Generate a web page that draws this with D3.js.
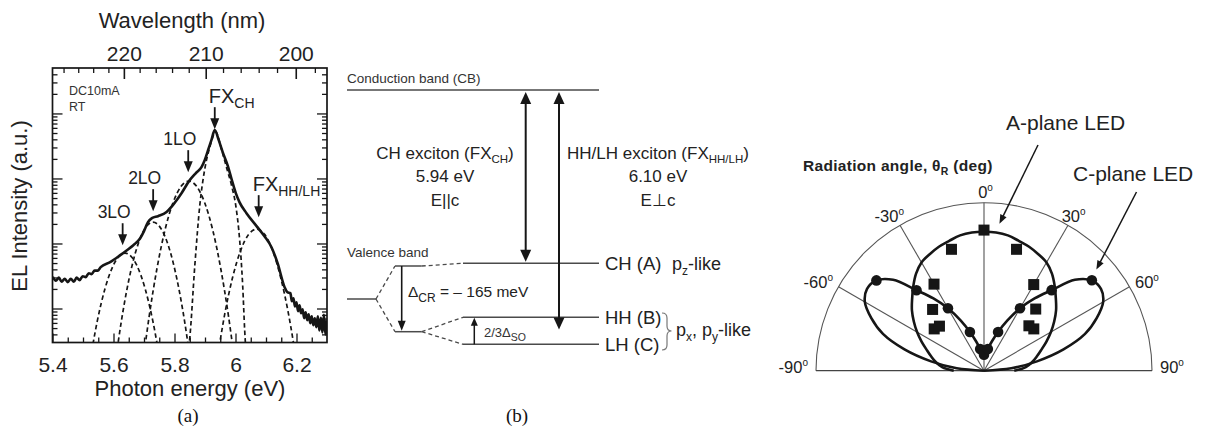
<!DOCTYPE html>
<html>
<head>
<meta charset="utf-8">
<script src="https://cdn.jsdelivr.net/npm/d3@7"></script>
<style>
  body { margin: 0; background: #fff; }
  svg { display: block; }
</style>
</head>
<body>
<script>
// ---------------- (a) EL spectrum ----------------
const energyDomain = [5.4, 6.3];              // photon energy, eV
const intensityDomain = [0.3, 5000];          // EL intensity, a.u. (log)
const energyLabelTicks = [5.4, 5.6, 5.8, 6.0, 6.2];
const energyMinorTicks = [5.45, 5.5, 5.55, 5.65, 5.7, 5.75, 5.85, 5.9, 5.95, 6.05, 6.1, 6.15, 6.25];
const wavelengthLabelTicks = [220, 210, 200]; // nm
const wavelengthMinorTicks = [228, 226, 224, 222, 218, 216, 214, 212, 208, 206, 204, 202, 198];
const logMajorTicks = [1, 10, 100, 1000];
const logMinorTicks = [0.4, 0.5, 0.6, 0.7, 0.8, 0.9, 2, 3, 4, 5, 6, 7, 8, 9,
  20, 30, 40, 50, 60, 70, 80, 90, 200, 300, 400, 500, 600, 700, 800, 900, 2000, 3000, 4000];

// measured spectrum (DC 10 mA, RT)
const specE = [5.401, 5.411, 5.421, 5.430, 5.440, 5.450, 5.460, 5.470, 5.479, 5.489, 5.499, 5.509, 5.519, 5.528, 5.538, 5.548, 5.558,
  5.589, 5.622, 5.644, 5.665, 5.687, 5.700, 5.713, 5.726, 5.746, 5.774, 5.792, 5.807, 5.823, 5.850, 5.870, 5.889, 5.899, 5.910, 5.921, 5.932,
  5.945, 5.958, 5.975, 5.988, 6.001, 6.013, 6.036, 6.069, 6.095, 6.118, 6.138, 6.161, 6.170,
  6.180, 6.185, 6.190, 6.195, 6.200, 6.205, 6.210, 6.215, 6.220, 6.225, 6.230, 6.235, 6.240, 6.245, 6.250, 6.255,
  6.260, 6.265, 6.270, 6.275, 6.280, 6.285, 6.290, 6.295, 6.300];
const specI = [3.08, 2.68, 2.98, 2.58, 2.87, 2.54, 2.87, 2.58, 2.98, 2.73, 3.14, 3.03, 3.49, 3.37, 3.82, 3.82, 4.32,
  5.16, 6.61, 7.89, 9.42, 11.9, 15.5, 21.3, 24.5, 26.3, 30.6, 37.5, 46.4, 59.4, 94.2, 121, 151, 191, 272, 388, 553,
  388, 254, 155, 94.2, 59.4, 43.2, 29.2, 18.5, 12.9, 8.77, 4.98, 2.13, 1.78,
  1.72, 1.29, 1.44, 1.08, 1.25, 0.909, 1.12, 0.847, 0.975, 0.709, 0.877, 0.661, 0.817, 0.594, 0.762, 0.553,
  0.709, 0.515, 0.76, 0.46, 0.72, 0.43, 0.80, 0.40, 0.66];

// fitted components
const fit3LO_E = [5.5203, 5.5464, 5.5725, 5.5987, 5.6183, 5.6379, 5.6575, 5.6771, 5.7033, 5.7294, 5.7556];
const fit3LO_I = [0.129, 0.627, 2.05, 4.54, 6.35, 7.09, 6.35, 4.54, 2.05, 0.627, 0.129];
const fit2LO_E = [5.6052, 5.6248, 5.6510, 5.6771, 5.7033, 5.7294, 5.7556, 5.7817, 5.8078, 5.8340, 5.8536];
const fit2LO_I = [0.139, 0.598, 2.85, 8.71, 17.0, 21.3, 17.0, 8.71, 2.85, 0.598, 0.139];
const fit1LO_E = [5.6967, 5.7163, 5.7425, 5.7686, 5.7948, 5.8209, 5.8471, 5.8732, 5.8993, 5.9255, 5.9516, 5.9778, 5.9974];
const fit1LO_I = [0.152, 0.722, 4.12, 16.0, 42.0, 74.8, 90.8, 74.8, 42.0, 16.0, 4.12, 0.722, 0.152];
const fitCH_E = [5.8438, 5.8503, 5.8667, 5.8830, 5.8993, 5.9157, 5.9353, 5.9549, 5.9712, 5.9876, 6.0007, 6.0137, 6.0235, 6.0301, 6.0350];
const fitCH_I = [0.191, 0.362, 4.64, 38.8, 140, 303, 515, 272, 144, 76.2, 38.8, 11.2, 2.28, 0.464, 0.191];
const fitHH_E = [5.9386, 5.9647, 5.9908, 6.0170, 6.0431, 6.0693, 6.0954, 6.1216, 6.1477, 6.1739, 6.2000];
const fitHH_I = [0.151, 0.820, 3.05, 7.83, 13.8, 16.6, 13.8, 7.83, 3.05, 0.820, 0.151];

// peak markers
const peakName = ["3LO", "2LO", "1LO", "FX", "FX"];
const peakSub = ["", "", "", "CH", "HH/LH"];
const peakEnergy = [5.630, 5.730, 5.845, 5.932, 6.076];
const peakTipIntensity = [9.4, 31.4, 125, 573, 25.4];

// ---------------- (b) band diagram ----------------
const excitonName = ["CH exciton", "HH/LH exciton"];
const excitonSub = ["CH", "HH/LH"];
const excitonEnergy = [5.94, 6.10];  // eV
const excitonPol = ["E||c", "E\u22a5c"];
const bandLabels = ["CH (A)", "HH (B)", "LH (C)"];
const deltaCR = -165;                // meV

// ---------------- (c) radiation patterns ----------------
const polarAngles = [-90, -85, -80, -75, -70, -65, -60, -55, -50, -45, -40, -35, -30, -25, -20, -15, -10, -5, 0,
  5, 10, 15, 20, 25, 30, 35, 40, 45, 50, 55, 60, 65, 70, 75, 80, 85, 90];
const aPlaneFit = [0.18, 0.25, 0.29, 0.325, 0.363, 0.41, 0.46, 0.51, 0.56, 0.605, 0.655, 0.705, 0.744, 0.765, 0.785, 0.80, 0.818, 0.826, 0.827,
  0.826, 0.818, 0.80, 0.785, 0.765, 0.744, 0.705, 0.655, 0.605, 0.56, 0.51, 0.46, 0.41, 0.363, 0.325, 0.29, 0.25, 0.18];
const cPlaneFit = [0, 0.163, 0.32, 0.49, 0.64, 0.74, 0.819, 0.85, 0.836, 0.765, 0.625, 0.525, 0.429, 0.33, 0.245, 0.18, 0.131, 0.105, 0.095,
  0.105, 0.131, 0.18, 0.245, 0.33, 0.429, 0.525, 0.625, 0.765, 0.836, 0.85, 0.819, 0.74, 0.64, 0.49, 0.32, 0.163, 0];
const aPlaneAngles = [-50, -45, -40, -30, -15, 0, 15, 30, 40, 45, 50];
const aPlaneMeas = [0.387, 0.375, 0.476, 0.595, 0.748, 0.837, 0.748, 0.592, 0.479, 0.378, 0.387];
const cPlaneAngles = [-50, -40, -30, -20, -10, 0, 10, 20, 30, 40, 50];
const cPlaneMeas = [0.836, 0.625, 0.429, 0.245, 0.131, 0.095, 0.131, 0.245, 0.429, 0.626, 0.838];
const polarGridAngles = [-60, -30, 0, 30, 60];
const polarTickAngles = [-90, -60, -30, 0, 30, 60, 90];
const calloutText = ["A-plane LED", "C-plane LED"];
const calloutAngle = [6, 48];
const calloutRadius = [0.88, 0.9];

// ======================================================
const sans = "'Liberation Sans', Arial, Helvetica, sans-serif";
const serif = "'Liberation Serif', 'Times New Roman', serif";
const ink = "#161616";
const grey = "#4a4a4a";
const hc = 1239.84;

const svg = d3.select("body").append("svg")
  .attr("width", 1205).attr("height", 430)
  .style("font-family", sans);

// arrow with filled triangular head(s)
function arrow(g, x1, y1, x2, y2, o = {}) {
  const hl = o.hl ?? 10, hw = o.hw ?? 8, sw = o.sw ?? 1.6, col = o.color ?? ink;
  const a = Math.atan2(y2 - y1, x2 - x1);
  const head = (tx, ty, ang) => {
    const bx = tx - hl * Math.cos(ang), by = ty - hl * Math.sin(ang);
    const px = -Math.sin(ang) * hw / 2, py = Math.cos(ang) * hw / 2;
    return `M${tx},${ty}L${bx + px},${by + py}L${bx - px},${by - py}Z`;
  };
  const s1x = o.both ? x1 + hl * 0.8 * Math.cos(a) : x1;
  const s1y = o.both ? y1 + hl * 0.8 * Math.sin(a) : y1;
  g.append("line")
    .attr("x1", s1x).attr("y1", s1y)
    .attr("x2", x2 - hl * 0.8 * Math.cos(a)).attr("y2", y2 - hl * 0.8 * Math.sin(a))
    .attr("stroke", col).attr("stroke-width", sw);
  g.append("path").attr("d", head(x2, y2, a)).attr("fill", col);
  if (o.both) g.append("path").attr("d", head(x1, y1, a + Math.PI)).attr("fill", col);
}

// text made of normal / subscript / superscript parts
function richText(g, x, y, parts, o = {}) {
  const fs = o.size ?? 16, sub = o.sub ?? fs * 0.68, shift = o.shift ?? fs * 0.28;
  const t = g.append("text").attr("x", x).attr("y", y)
    .attr("font-size", fs).attr("fill", o.color ?? ink)
    .attr("text-anchor", o.anchor ?? "start")
    .attr("font-weight", o.weight ?? "normal");
  if (o.spacing) t.attr("letter-spacing", o.spacing);
  let cur = 0;
  parts.forEach(([s, kind]) => {
    const target = kind === "sub" ? shift : kind === "sup" ? -fs * 0.42 : 0;
    const ts = t.append("tspan").text(s).attr("dy", target - cur);
    if (kind) ts.attr("font-size", sub);
    cur = target;
  });
  return t;
}

// ---------------- panel (a) ----------------
const fa = { l: 52.5, r: 327, t: 68, b: 342.5 };
const x = d3.scaleLinear().domain(energyDomain).range([fa.l, fa.r]);
const y = d3.scaleLog().domain(intensityDomain).range([fa.b, fa.t]);
const gA = svg.append("g");

gA.append("clipPath").attr("id", "clipA").append("rect")
  .attr("x", fa.l).attr("y", fa.t).attr("width", fa.r - fa.l).attr("height", fa.b - fa.t);

function styleAxis(g) {
  g.select(".domain").remove();
  g.selectAll(".tick line").attr("stroke", ink).attr("stroke-width", 1.3);
  g.selectAll("text").attr("font-size", 21).attr("font-family", sans).attr("fill", "#222");
}
gA.append("g").attr("transform", `translate(0,${fa.b})`)
  .call(d3.axisBottom(x).tickValues(energyMinorTicks).tickSize(-5).tickFormat(""))
  .call(styleAxis);
gA.append("g").attr("transform", `translate(0,${fa.b})`)
  .call(d3.axisBottom(x).tickValues(energyLabelTicks).tickSize(-9).tickPadding(15).tickFormat(d3.format("~g")))
  .call(styleAxis);
[["left", d3.axisLeft, fa.l], ["right", d3.axisRight, fa.r]].forEach(([, ax, px]) => {
  gA.append("g").attr("transform", `translate(${px},0)`)
    .call(ax(y).tickValues(logMinorTicks).tickSize(-5).tickFormat(""))
    .call(styleAxis);
  gA.append("g").attr("transform", `translate(${px},0)`)
    .call(ax(y).tickValues(logMajorTicks).tickSize(-10).tickFormat(""))
    .call(styleAxis);
});
// wavelength axis on top
gA.selectAll("line.wlMinor").data(wavelengthMinorTicks).join("line")
  .attr("x1", d => x(hc / d)).attr("x2", d => x(hc / d))
  .attr("y1", fa.t).attr("y2", fa.t + 5)
  .attr("stroke", ink).attr("stroke-width", 1.3);
gA.selectAll("line.wlMajor").data(wavelengthLabelTicks).join("line")
  .attr("x1", d => x(hc / d)).attr("x2", d => x(hc / d))
  .attr("y1", fa.t).attr("y2", fa.t + 11)
  .attr("stroke", ink).attr("stroke-width", 1.6);
gA.selectAll("text.wl").data(wavelengthLabelTicks).join("text")
  .attr("x", d => x(hc / d)).attr("y", fa.t - 7)
  .attr("text-anchor", "middle").attr("font-size", 21).attr("fill", "#222")
  .text(d => d);

// frame
gA.append("rect").attr("x", fa.l).attr("y", fa.t)
  .attr("width", fa.r - fa.l).attr("height", fa.b - fa.t)
  .attr("fill", "none").attr("stroke", ink).attr("stroke-width", 1.7);

// fitted components (dashed)
const line = d3.line().x(d => x(d[0])).y(d => y(d[1])).curve(d3.curveMonotoneX);
const comps = [[fit3LO_E, fit3LO_I], [fit2LO_E, fit2LO_I], [fit1LO_E, fit1LO_I], [fitCH_E, fitCH_I], [fitHH_E, fitHH_I]];
gA.append("g").attr("clip-path", "url(#clipA)")
  .selectAll("path").data(comps).join("path")
  .attr("d", ([e, i]) => line(d3.zip(e, i)))
  .attr("fill", "none").attr("stroke", ink).attr("stroke-width", 1.7)
  .attr("stroke-dasharray", "4.5,3");

// measured spectrum
gA.append("path").attr("clip-path", "url(#clipA)")
  .attr("d", line(d3.zip(specE, specI)))
  .attr("fill", "none").attr("stroke", ink).attr("stroke-width", 2.6)
  .attr("stroke-linejoin", "round");

// peak labels + arrows
peakName.forEach((nm, k) => {
  const px = x(peakEnergy[k]), tip = y(peakTipIntensity[k]);
  const isFX = nm === "FX";
  arrow(gA, px, tip - 22, px, tip, { hl: 11, hw: 9, sw: 1.8 });
  if (isFX) {
    richText(gA, px - 6, tip - 26, [[nm], [peakSub[k], "sub"]], { size: 20, sub: 14, shift: 5, color: "#222" });
  } else {
    gA.append("text").attr("x", px - 25).attr("y", tip - 27)
      .attr("font-size", 17.5).attr("fill", "#222").text(nm);
  }
});

gA.append("text").attr("x", 69).attr("y", 95).attr("font-size", 12.5).attr("fill", "#333").text("DC10mA");
gA.append("text").attr("x", 69).attr("y", 111).attr("font-size", 12.5).attr("fill", "#333").text("RT");

gA.append("text").attr("x", 182).attr("y", 28).attr("text-anchor", "middle")
  .attr("font-size", 22).attr("fill", "#222").text("Wavelength (nm)");
gA.append("text").attr("x", 190).attr("y", 396).attr("text-anchor", "middle")
  .attr("font-size", 22).attr("fill", "#222").text("Photon energy (eV)");
gA.append("text").attr("transform", "translate(27,206) rotate(-90)").attr("text-anchor", "middle")
  .attr("font-size", 22).attr("fill", "#222").text("EL Intensity (a.u.)");
svg.append("text").attr("x", 188).attr("y", 422).attr("text-anchor", "middle")
  .attr("font-family", serif).attr("font-size", 19).attr("fill", "#111").text("(a)");

// ---------------- panel (b) ----------------
const gB = svg.append("g");
const lvl = { cb: 90, ch: 263.3, hh: 317.3, lh: 344.3, vb: 299, up: 266, lo: 331.7 };
const bx = { l: 347, fork: 376, s0: 395, s1: 421.7, s2: 463, r: 599, arrCH: 525.7, arrHH: 559 };
const lineStyle = sel => sel.attr("stroke", grey).attr("stroke-width", 1.5);
const seg = (x1, y1, x2, y2, dashed) => {
  const s = gB.append("line").attr("x1", x1).attr("y1", y1).attr("x2", x2).attr("y2", y2).call(lineStyle);
  if (dashed) s.attr("stroke-dasharray", "4,3").attr("stroke-width", 1.3);
};
seg(bx.l, lvl.cb, bx.r, lvl.cb);
seg(bx.s2, lvl.ch, bx.r, lvl.ch);
seg(bx.s2, lvl.hh, bx.r, lvl.hh);
seg(bx.s2, lvl.lh, bx.r, lvl.lh);
seg(bx.l, lvl.vb, bx.fork, lvl.vb);
seg(bx.s0, lvl.up, bx.s1, lvl.up);
seg(bx.s0, lvl.lo, bx.s1, lvl.lo);
seg(bx.fork, lvl.vb, bx.s0, lvl.up, true);
seg(bx.fork, lvl.vb, bx.s0, lvl.lo, true);
seg(bx.s1, lvl.up, bx.s2, lvl.ch, true);
seg(bx.s1, lvl.lo, bx.s2, lvl.hh, true);
seg(bx.s1, lvl.lo, bx.s2, lvl.lh, true);

gB.append("text").attr("x", bx.l).attr("y", 83).attr("font-size", 13.5).attr("fill", "#333").text("Conduction band (CB)");
gB.append("text").attr("x", bx.l).attr("y", 256.5).attr("font-size", 13.5).attr("fill", "#333").text("Valence band");

// optical transitions
arrow(gB, bx.arrCH, lvl.cb + 2, bx.arrCH, lvl.ch - 1.5, { both: true, hl: 12, hw: 11, sw: 2 });
arrow(gB, bx.arrHH, lvl.cb + 2, bx.arrHH, 329.5, { both: true, hl: 12, hw: 11, sw: 2 });

const exX = [445, 658];
excitonName.forEach((nm, k) => {
  richText(gB, exX[k], 159, [[nm + " (FX"], [excitonSub[k], "sub"], [")"]],
    { size: 17, sub: 11.5, shift: 4, anchor: "middle", color: "#222" });
  gB.append("text").attr("x", exX[k]).attr("y", 182).attr("text-anchor", "middle")
    .attr("font-size", 17).attr("fill", "#222").text(`${excitonEnergy[k].toFixed(2)} eV`);
  gB.append("text").attr("x", exX[k]).attr("y", 206).attr("text-anchor", "middle")
    .attr("font-size", 17).attr("fill", "#222").text(excitonPol[k]);
});

// crystal-field and spin-orbit splittings
arrow(gB, 401.7, lvl.up, 401.7, lvl.lo - 1, { hl: 10, hw: 8, sw: 1.6 });
richText(gB, 408, 297, [["\u0394"], ["CR", "sub"], [` = \u2013 ${Math.abs(deltaCR)} meV`]],
  { size: 15.5, sub: 12, shift: 5, color: "#222" });
arrow(gB, 474.3, lvl.lh, 474.3, lvl.hh + 0.5, { hl: 8, hw: 7, sw: 1.5 });
richText(gB, 484, 336.5, [["2/3\u0394"], ["SO", "sub"]], { size: 13, sub: 10.5, shift: 4, color: "#333" });

// level labels
const lvlY = [lvl.ch, lvl.hh, lvl.lh];
bandLabels.forEach((t, k) => {
  gB.append("text").attr("x", 605).attr("y", lvlY[k] + 6.5).attr("font-size", 18.5).attr("fill", "#222").text(t);
});
richText(gB, 672, lvl.ch + 6.5, [["p"], ["z", "sub"], ["-like"]], { size: 18, sub: 12, shift: 5, color: "#222" });
gB.append("path")
  .attr("d", "M662,313 Q667,313 667,318 L667,326 Q667,331 671.5,331 Q667,331 667,336 L667,345 Q667,350 662,350")
  .attr("fill", "none").attr("stroke", "#777").attr("stroke-width", 1.2);
richText(gB, 676, 336, [["p"], ["x", "sub"], [", p"], ["y", "sub"], ["-like"]], { size: 18, sub: 12, shift: 5, color: "#222" });

svg.append("text").attr("x", 517).attr("y", 422).attr("text-anchor", "middle")
  .attr("font-family", serif).attr("font-size", 19).attr("fill", "#111").text("(b)");

// ---------------- panel (c) ----------------
const P = { cx: 984, cy: 370.7, R: 168 };
const r = d3.scaleLinear().domain([0, 1]).range([0, P.R]);
const rad = d => d * Math.PI / 180;
const gC = svg.append("g").attr("transform", `translate(${P.cx},${P.cy})`);

// grid: outer half circle, baseline, spokes
const arcPath = d3.path();
arcPath.arc(0, 0, r(1), Math.PI, 2 * Math.PI);
gC.append("path").attr("d", arcPath.toString()).attr("fill", "none").attr("stroke", "#555").attr("stroke-width", 1.1);
gC.append("line").attr("x1", -r(1)).attr("x2", r(1)).attr("y1", 0).attr("y2", 0)
  .attr("stroke", "#444").attr("stroke-width", 1.3);
gC.selectAll("line.spoke").data(polarGridAngles).join("line")
  .attr("x1", 0).attr("y1", 0)
  .attr("x2", d => d3.pointRadial(rad(d), r(1))[0])
  .attr("y2", d => d3.pointRadial(rad(d), r(1))[1])
  .attr("stroke", "#555").attr("stroke-width", 1.1);

// angle labels
polarTickAngles.forEach(a => {
  const [ax, ay] = d3.pointRadial(rad(a), r(1));
  let tx, ty, anchor;
  if (a === 0) { tx = ax + 1.5; ty = ay - 5; anchor = "middle"; }
  else if (Math.abs(a) === 90) { tx = ax + Math.sign(a) * 8; ty = 2.5; anchor = a < 0 ? "end" : "start"; }
  else if (Math.abs(a) === 60) { tx = ax + Math.sign(a) * 5.5; ty = ay + 1.6; anchor = a < 0 ? "end" : "start"; }
  else { tx = ax - Math.sign(a) * (a < 0 ? 4 : 6.3); ty = ay - 3.5; anchor = a < 0 ? "end" : "start"; }
  richText(gC, tx, ty, [[String(a)], ["o", "sup"]], { size: 16.5, sub: 10, anchor, color: "#222" });
});

const radial = d3.lineRadial().angle(d => rad(d[0])).radius(d => r(d[1])).curve(d3.curveCatmullRom.alpha(0.5));
gC.append("path").attr("d", radial(d3.zip(polarAngles, aPlaneFit)))
  .attr("fill", "none").attr("stroke", ink).attr("stroke-width", 2.6);
gC.append("path").attr("d", radial(d3.zip(polarAngles, cPlaneFit)))
  .attr("fill", "none").attr("stroke", ink).attr("stroke-width", 2.6);

gC.selectAll("rect.aMeas").data(d3.zip(aPlaneAngles, aPlaneMeas)).join("rect")
  .attr("x", d => d3.pointRadial(rad(d[0]), r(d[1]))[0] - 5.5)
  .attr("y", d => d3.pointRadial(rad(d[0]), r(d[1]))[1] - 5.5)
  .attr("width", 11).attr("height", 11).attr("fill", ink);
gC.selectAll("circle.cMeas").data(d3.zip(cPlaneAngles, cPlaneMeas)).join("circle")
  .attr("cx", d => d3.pointRadial(rad(d[0]), r(d[1]))[0])
  .attr("cy", d => d3.pointRadial(rad(d[0]), r(d[1]))[1])
  .attr("r", 5.3).attr("fill", ink);

// titles and callouts
richText(svg, 803, 171, [["Radiation angle, \u03b8"], ["R", "sub"], [" (deg)"]],
  { size: 15.5, sub: 10.5, shift: 3.5, weight: "bold", color: "#222", spacing: 0.3 });
const calloutPos = [[1006, 129.5], [1073, 181]];
const calloutStart = [[1038, 145], [1136.5, 192]];
calloutText.forEach((t, k) => {
  svg.append("text").attr("x", calloutPos[k][0]).attr("y", calloutPos[k][1])
    .attr("font-size", 21).attr("fill", "#222").text(t);
  const [tx, ty] = d3.pointRadial(rad(calloutAngle[k]), r(calloutRadius[k]));
  arrow(svg, calloutStart[k][0], calloutStart[k][1], P.cx + tx, P.cy + ty, { hl: 9, hw: 7, sw: 1.5 });
});
</script>
</body>
</html>
